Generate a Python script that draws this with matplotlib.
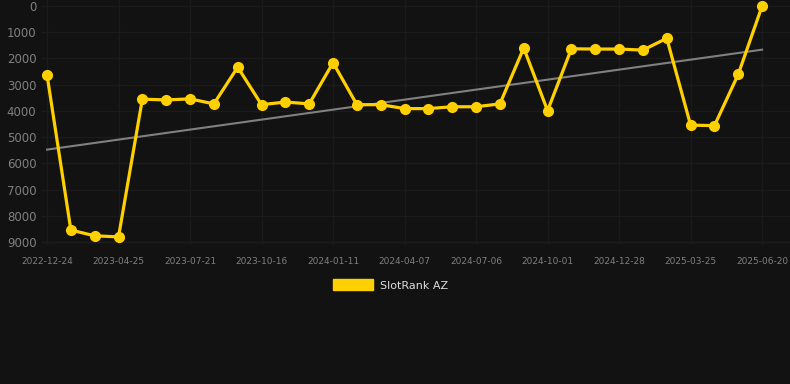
import matplotlib.pyplot as plt
import matplotlib.patches as mpatches
import numpy as np

tick_labels = ["2022-12-24", "2023-04-25", "2023-07-21", "2023-10-16", "2024-01-11",
               "2024-04-07", "2024-07-06", "2024-10-01", "2024-12-28", "2025-03-25",
               "2025-06-20"]

ranks = [2620, 8540, 8760, 8800, 3550, 3580, 3540, 3730, 2330, 3760,
         3660, 3730, 2160, 3760, 3760, 3910, 3910, 3840, 3840, 3730,
         1600, 3990, 1630, 1640, 1640, 1680, 1230, 4540, 4560, 2600, 0]

bg = "#121212"
yellow = "#FFD000"

x = np.arange(len(ranks))

fig = plt.figure(figsize=(7.9, 3.84), dpi=100, facecolor=bg)
ax = fig.add_axes([42/790, 1-245/384, 748/790, 245/384])
ax.set_facecolor(bg)

# trend line (least squares)
k, b = np.polyfit(x, ranks, 1)
ax.plot(x, k*x+b, color="#808080", lw=1.5, zorder=2)

ax.plot(x, ranks, color=yellow, lw=2.3, marker="o", ms=7, zorder=3)

ax.set_ylim(9110, -230)
ax.set_xlim(-0.21, 31.17)
ax.set_yticks(range(0, 9001, 1000))
ax.set_xticks(x[::3])
ax.set_xticklabels(tick_labels)
ax.grid(True, color="#1b1b1b", lw=1)
for s in ax.spines.values():
    s.set_visible(False)
ax.axhline(9000, color="#262626", lw=1, zorder=1)
ax.tick_params(axis="y", length=0, labelsize=8.5, labelcolor="#808080", pad=4)
ax.tick_params(axis="x", length=0, labelsize=6.5, labelcolor="#808080", pad=9)

h = mpatches.Patch(color=yellow, label="SlotRank AZ")
fig.legend(handles=[h], loc="center", bbox_to_anchor=(0.494, 1-285/384), frameon=False,
           labelcolor="#dddddd", fontsize=8, handlelength=3.6, handleheight=1.1,
           handletextpad=0.6)

fig.savefig("out.png", facecolor=bg)
